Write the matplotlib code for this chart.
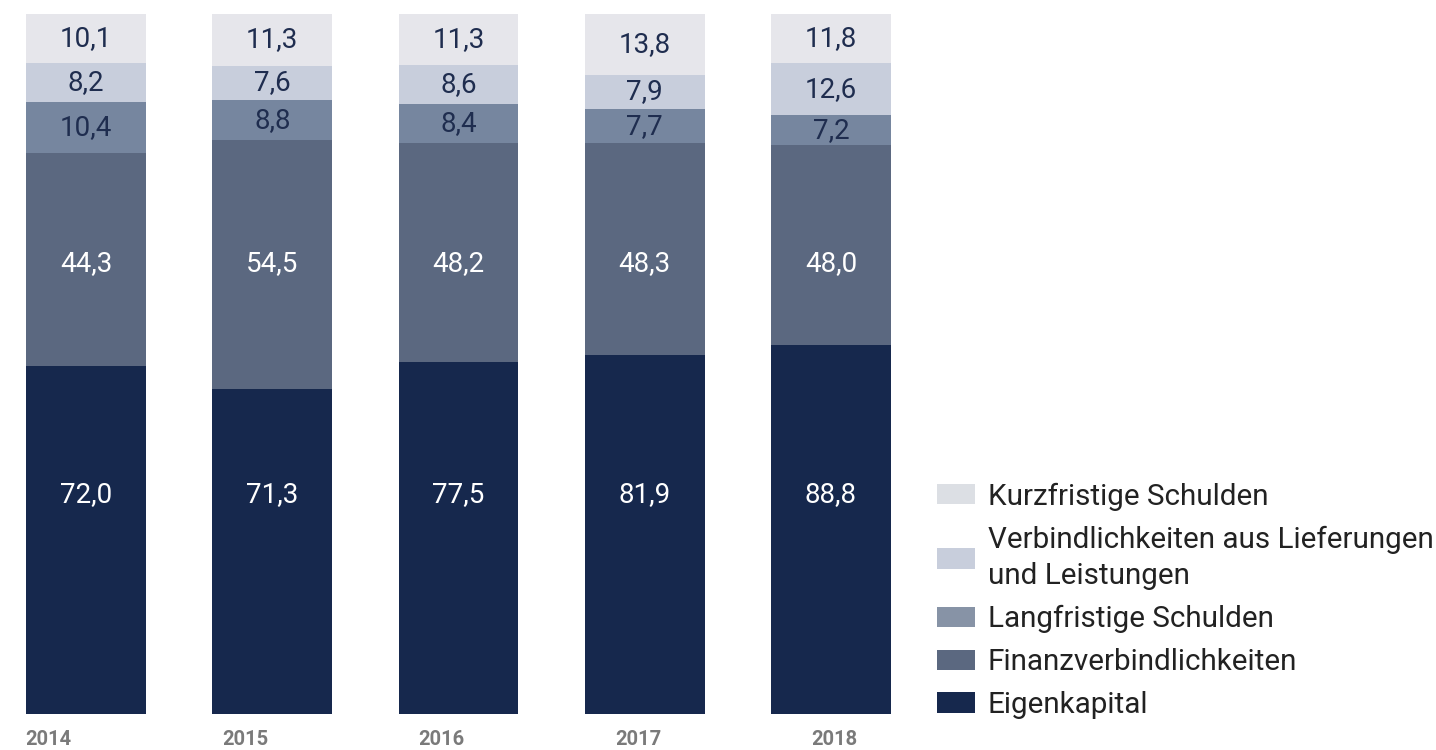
import matplotlib.pyplot as plt
import numpy as np
from matplotlib.patches import Patch

years = ['2014', '2015', '2016', '2017', '2018']
series = ['Eigenkapital', 'Finanzverbindlichkeiten', 'Langfristige Schulden',
          'Verbindlichkeiten aus Lieferungen\nund Leistungen', 'Kurzfristige Schulden']
eigenkapital = [72.0, 71.3, 77.5, 81.9, 88.8]
finanz = [44.3, 54.5, 48.2, 48.3, 48.0]
langfristig = [10.4, 8.8, 8.4, 7.7, 7.2]
lieferungen = [8.2, 7.6, 8.6, 7.9, 12.6]
kurzfristig = [10.1, 11.3, 11.3, 13.8, 11.8]

colors = ['#16284d', '#5b6880', '#76869f', '#c8cedc', '#e6e6eb']
legend_colors = ['#16284d', '#5b6880', '#8793a6', '#c8cedc', '#dcdfe4']
text_colors = ['white', 'white', '#1f2d4f', '#1f2d4f', '#1f2d4f']
# fixed label heights (in %) for the two big segments, None = centred
label_pos = [31.4, 64.4, None, None, None]


def main():
    plt.rcParams['font.family'] = ['Roboto', 'DejaVu Sans']
    fig = plt.figure(figsize=(14.36, 7.5), dpi=100)
    ax = fig.add_axes([0, 36 / 750, 920 / 1436, 700 / 750])

    data = np.array([eigenkapital, finanz, langfristig, lieferungen, kurzfristig])
    shares = data / data.sum(axis=0) * 100
    x = np.arange(len(years))
    bottom = np.zeros(len(years))
    for k in range(len(series)):
        ax.bar(x, shares[k], 0.644, bottom=bottom, color=colors[k], linewidth=0)
        for i in range(len(years)):
            ypos = label_pos[k] if label_pos[k] is not None else bottom[i] + shares[k][i] / 2
            ax.text(x[i], ypos, f"{data[k][i]:.1f}".replace('.', ','),
                    ha='center', va='center', fontsize=20, color=text_colors[k])
        bottom += shares[k]

    for i, y in enumerate(years):
        ax.text(x[i] - 0.2 + 0.055 * i, -3.7, y, ha='center', va='center', fontsize=14.5,
                fontweight='bold', color='#7a7a7a')

    ax.set_xlim(-0.462, 4.478)
    ax.set_ylim(0, 100)
    ax.axis('off')

    handles = [Patch(facecolor=legend_colors[k], edgecolor='none', label=series[k])
               for k in range(len(series))][::-1]
    leg = fig.legend(handles=handles, loc='lower left', bbox_to_anchor=(937 / 1436, 31 / 750),
                     frameon=False, fontsize=21.3, handlelength=1.28, handleheight=0.68,
                     handletextpad=0.44, labelspacing=0.5, labelcolor='#222222',
                     borderpad=0, borderaxespad=0)
    for t in leg.get_texts():
        t.set_linespacing(1.4)

    plt.savefig('out.png', dpi=100)


if __name__ == '__main__':
    main()
